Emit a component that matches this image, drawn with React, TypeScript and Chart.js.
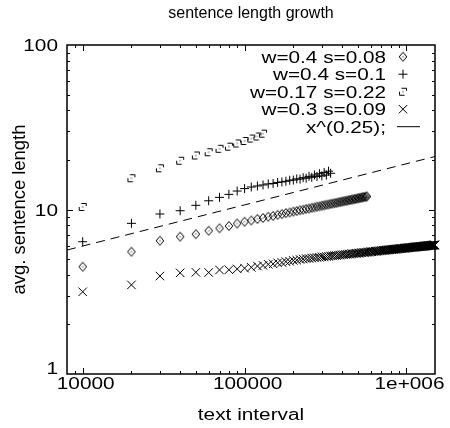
import { useEffect, useRef } from "react";
import { Chart, registerables } from "chart.js";

Chart.register(...registerables);

// ---- data ----
const textInterval = [
  10000, 20000, 30000, 40000, 50000, 60000, 70000, 80000, 90000, 100000,
  110000, 120000, 130000, 140000, 150000, 160000, 170000, 180000, 190000, 200000,
  210000, 220000, 230000, 240000, 250000, 260000, 270000, 280000, 290000, 300000,
  310000, 320000, 330000, 340000, 350000, 360000, 370000, 380000, 390000, 400000,
  410000, 420000, 430000, 440000, 450000, 460000, 470000, 480000, 490000, 500000,
  510000, 520000, 530000, 540000, 550000, 560000, 570000, 580000, 590000, 600000,
  610000, 620000, 630000, 640000, 650000, 660000, 670000, 680000, 690000, 700000,
  710000, 720000, 730000, 740000, 750000, 760000, 770000, 780000, 790000, 800000,
  810000, 820000, 830000, 840000, 850000, 860000, 870000, 880000, 890000, 900000,
  910000, 920000, 930000, 940000, 950000, 960000, 970000, 980000, 990000, 1000000,
  1010000, 1020000, 1030000, 1040000, 1050000, 1060000, 1070000, 1080000, 1090000, 1100000,
  1110000, 1120000, 1130000, 1140000, 1150000, 1160000, 1170000, 1180000, 1190000, 1200000,
  1210000, 1220000, 1230000, 1240000, 1250000, 1260000, 1270000, 1280000, 1290000, 1300000,
  1310000, 1320000, 1330000, 1340000, 1350000, 1360000, 1370000, 1380000, 1390000, 1400000,
  1410000, 1420000, 1430000, 1440000, 1450000, 1460000, 1470000, 1480000, 1490000, 1500000,
];

// w=0.4 s=0.08 (diamonds)
const lenW04S008 = [
  4.49, 5.54, 6.46, 6.84, 7.08, 7.43, 7.69, 7.94, 8.22, 8.43,
  8.58, 8.76, 8.88, 9.04, 9.14, 9.28, 9.38, 9.51, 9.59, 9.71,
  9.79, 9.9, 9.97, 10.08, 10.14, 10.24, 10.3, 10.4, 10.45, 10.55,
  10.6, 10.68, 10.73, 10.82, 10.86, 10.94, 10.98, 11.06, 11.1, 11.18,
  11.22, 11.29, 11.32, 11.4, 11.43, 11.5, 11.53, 11.6, 11.63, 11.7,
  11.72, 11.79, 11.82, 11.88, 11.91, 11.97, 12.0,
];

// w=0.4 s=0.1 (plus)
const lenW04S01 = [
  6.37, 8.24, 9.39, 9.83, 10.6, 11.3, 11.85, 12.36, 12.95, 13.4,
  13.7, 13.9, 14.1, 14.3, 14.4, 14.6, 14.7, 14.85, 15.05, 15.1,
  15.35, 15.3, 15.6, 15.5, 15.9, 15.7, 16.2, 15.9, 16.5, 16.0,
  16.8, 16.2, 17.1, 16.6,
];

// w=0.17 s=0.22 (boxes)
const lenW017S022 = [
  10.36, 15.5, 17.8, 19.8, 21.3, 22.3, 23.4, 24.1, 25.2, 26.1,
  27.0, 27.8, 28.9,
];

// w=0.3 s=0.09 (crosses)
const lenW03S009 = [
  3.16, 3.48, 3.94, 4.12, 4.15, 4.14, 4.29, 4.3, 4.35, 4.4,
  4.45, 4.53, 4.57, 4.64, 4.67, 4.74, 4.76, 4.82, 4.84, 4.9,
  4.92, 4.97, 5.0, 5.03, 5.04, 5.07, 5.08, 5.11, 5.12, 5.15,
  5.15, 5.18, 5.19, 5.22, 5.22, 5.25, 5.25, 5.28, 5.28, 5.31,
  5.31, 5.33, 5.34, 5.36, 5.36, 5.39, 5.38, 5.41, 5.41, 5.43,
  5.43, 5.45, 5.46, 5.48, 5.47, 5.5, 5.49, 5.52, 5.51, 5.54,
  5.53, 5.56, 5.55, 5.58, 5.57, 5.59, 5.59, 5.61, 5.6, 5.63,
  5.62, 5.65, 5.64, 5.66, 5.66, 5.68, 5.67, 5.69, 5.69, 5.71,
  5.7, 5.72, 5.72, 5.74, 5.73, 5.75, 5.75, 5.76, 5.76, 5.78,
  5.77, 5.79, 5.79, 5.8, 5.8, 5.82, 5.81, 5.83, 5.83, 5.84,
  5.84, 5.86, 5.85, 5.87, 5.86, 5.88, 5.87, 5.89, 5.89, 5.9,
  5.9, 5.91, 5.91, 5.92, 5.92, 5.93, 5.93, 5.94, 5.94, 5.95,
  5.95, 5.96, 5.96, 5.97, 5.97, 5.98, 5.98, 5.99, 5.99, 6.0,
  6.0, 6.01, 6.01, 6.02, 6.02, 6.03, 6.03, 6.04, 6.04, 6.05,
  6.05, 6.06, 6.06, 6.07, 6.07, 6.07, 6.08, 6.08, 6.09, 6.09,
];

// reference curve x^(0.25) (end points)
const fitX = [8000, 1500000];
const fitY = [5.67, 21.0];

const xTickValues = [10000, 100000, 1000000];
const xTickLabels = ["10000", "100000", "1e+006"];
const yTickValues = [1, 10, 100];
const yTickLabels = ["1", "10", "100"];
const legendLabels = ["w=0.4 s=0.08", "w=0.4 s=0.1", "w=0.17 s=0.22", "w=0.3 s=0.09", "x^(0.25);"];
const titleText = "sentence length growth";
const xTitleText = "text interval";
const yTitleText = "avg. sentence length";

const FONT = '16px "Liberation Sans", Arial, sans-serif';
const LEGEND_FONT = '17px "Liberation Sans", Arial, sans-serif';
const SX = 1.3;

function makeDiamond() {
  const c = document.createElement("canvas");
  c.width = 10;
  c.height = 12;
  const g = c.getContext("2d")!;
  g.strokeStyle = "#000";
  g.lineWidth = 1;
  g.beginPath();
  g.moveTo(5, 1.5);
  g.lineTo(8.8, 6);
  g.lineTo(5, 10.5);
  g.lineTo(1.2, 6);
  g.closePath();
  g.stroke();
  g.fillStyle = "#000";
  g.fillRect(4.5, 5.5, 1, 1);
  return c;
}

function makeBox() {
  const c = document.createElement("canvas");
  c.width = 10;
  c.height = 10;
  const g = c.getContext("2d")!;
  g.strokeStyle = "#000";
  g.lineWidth = 1;
  g.beginPath();
  g.moveTo(3.5, 1.5);
  g.lineTo(8.5, 1.5);
  g.lineTo(8.5, 4);
  g.moveTo(1.5, 5);
  g.lineTo(1.5, 8.5);
  g.lineTo(6.5, 8.5);
  g.stroke();
  g.fillStyle = "#000";
  g.fillRect(4.5, 4.5, 1, 1);
  return c;
}

function sText(ctx: CanvasRenderingContext2D, text: string, x: number, y: number, align: CanvasTextAlign, sx: number) {
  ctx.save();
  ctx.translate(x, y);
  ctx.scale(sx, 1);
  ctx.textAlign = align;
  ctx.textBaseline = "alphabetic";
  ctx.fillText(text, 0, 0);
  ctx.restore();
}

export default function App() {
  const ref = useRef<HTMLCanvasElement | null>(null);

  useEffect(() => {
    document.body.style.margin = "0";
    const canvas = ref.current;
    if (!canvas) return;
    const diamond = makeDiamond();
    const box = makeBox();

    const pts = (vals: number[]) => vals.map((v, i) => ({ x: textInterval[i], y: v }));

    const frame = {
      id: "gnuframe",
      afterDraw(chart: any) {
        const { ctx, chartArea: a, scales } = chart;
        const xs = scales.x;
        const ys = scales.y;
        ctx.save();
        ctx.strokeStyle = "#000";
        ctx.fillStyle = "#000";
        ctx.lineWidth = 1;
        const major = 6;
        const minor = 3;
        ctx.beginPath();
        for (let d = 3; d <= 6; d++) {
          for (let m = 1; m <= 9; m++) {
            const v = m * Math.pow(10, d);
            if (v <= xs.min || v >= xs.max) continue;
            const px = Math.round(xs.getPixelForValue(v)) + 0.5;
            const L = m === 1 ? major : minor;
            ctx.moveTo(px, a.bottom);
            ctx.lineTo(px, a.bottom - L);
            ctx.moveTo(px, a.top);
            ctx.lineTo(px, a.top + L);
          }
        }
        for (let d = 0; d <= 2; d++) {
          for (let m = 1; m <= 9; m++) {
            const v = m * Math.pow(10, d);
            if (v <= ys.min || v >= ys.max) continue;
            const py = Math.round(ys.getPixelForValue(v)) + 0.5;
            const L = m === 1 ? major : minor;
            ctx.moveTo(a.left, py);
            ctx.lineTo(a.left + L, py);
            ctx.moveTo(a.right, py);
            ctx.lineTo(a.right - L, py);
          }
        }
        ctx.stroke();
        ctx.lineWidth = 1.5;
        ctx.strokeRect(a.left, a.top, a.right - a.left, a.bottom - a.top);

        ctx.font = FONT;
        xTickValues.forEach((v, i) => sText(ctx, xTickLabels[i], xs.getPixelForValue(v) + 3, 389, "center", SX));
        const yOff = [0, 6, 6];
        yTickValues.forEach((v, i) => sText(ctx, yTickLabels[i], 58, ys.getPixelForValue(v) + yOff[i], "right", SX));

        const cx = (a.left + a.right) / 2;
        sText(ctx, titleText, cx, 18, "center", 1.0);
        sText(ctx, xTitleText, cx, 420, "center", SX);
        ctx.save();
        ctx.translate(25, (a.top + a.bottom) / 2);
        ctx.rotate(-Math.PI / 2);
        ctx.scale(1.15, 1.1);
        ctx.textAlign = "center";
        ctx.textBaseline = "alphabetic";
        ctx.fillText(yTitleText, 0, 0);
        ctx.restore();

        // legend
        ctx.font = LEGEND_FONT;
        const rows = [62.7, 80.2, 97.7, 115.2, 132.7];
        const mx = 403;
        legendLabels.forEach((t, i) => sText(ctx, t, 386, rows[i], "right", 1.22));
        ctx.lineWidth = 1;
        ctx.drawImage(diamond, mx - 5, rows[0] - 6 - 6);
        let cy = rows[1] - 6;
        ctx.beginPath();
        ctx.moveTo(mx - 4.5, cy);
        ctx.lineTo(mx + 4.5, cy);
        ctx.moveTo(mx, cy - 4.5);
        ctx.lineTo(mx, cy + 4.5);
        ctx.stroke();
        ctx.drawImage(box, mx - 5, rows[2] - 6 - 5);
        cy = rows[3] - 6;
        ctx.beginPath();
        ctx.moveTo(mx - 4.2, cy - 4.2);
        ctx.lineTo(mx + 4.2, cy + 4.2);
        ctx.moveTo(mx + 4.2, cy - 4.2);
        ctx.lineTo(mx - 4.2, cy + 4.2);
        ctx.stroke();
        cy = rows[4] - 6;
        ctx.beginPath();
        ctx.moveTo(397, cy);
        ctx.lineTo(420, cy);
        ctx.stroke();
        ctx.restore();
      },
    };

    const chart = new Chart(canvas, {
      type: "scatter",
      data: {
        datasets: [
          {
            label: legendLabels[0],
            data: pts(lenW04S008),
            pointStyle: diamond as any,
            pointRadius: 5,
            borderColor: "#000",
            backgroundColor: "#000",
            clip: false as any,
          },
          {
            label: legendLabels[1],
            data: pts(lenW04S01),
            pointStyle: "cross",
            pointRadius: 4.5,
            borderWidth: 1,
            borderColor: "#000",
            backgroundColor: "#000",
            clip: false as any,
          },
          {
            label: legendLabels[2],
            data: pts(lenW017S022),
            pointStyle: box as any,
            pointRadius: 5,
            borderColor: "#000",
            backgroundColor: "#000",
            clip: false as any,
          },
          {
            label: legendLabels[3],
            data: pts(lenW03S009),
            pointStyle: "crossRot",
            pointRadius: 6,
            borderWidth: 1,
            borderColor: "#000",
            backgroundColor: "#000",
            clip: false as any,
          },
          {
            label: legendLabels[4],
            data: fitX.map((x, i) => ({ x, y: fitY[i] })),
            showLine: true,
            pointRadius: 0,
            borderColor: "#000",
            borderWidth: 1,
            borderDash: [9, 6],
          } as any,
        ],
      },
      options: {
        responsive: false,
        animation: false,
        events: [],
        layout: { padding: { top: 45, right: 15, left: 0, bottom: 0 } },
        plugins: {
          legend: { display: false },
          tooltip: { enabled: false },
          title: { display: false },
        },
        scales: {
          x: {
            type: "logarithmic",
            min: 8000,
            max: 1500000,
            grid: { display: false },
            border: { display: false },
            ticks: { display: false },
            afterBuildTicks: (s: any) => {
              s.ticks = xTickValues.map((v) => ({ value: v }));
            },
            afterFit: (s: any) => {
              s.height = 54;
            },
          },
          y: {
            type: "logarithmic",
            min: 1,
            max: 100,
            grid: { display: false },
            border: { display: false },
            ticks: { display: false },
            afterBuildTicks: (s: any) => {
              s.ticks = yTickValues.map((v) => ({ value: v }));
            },
            afterFit: (s: any) => {
              s.width = 67;
            },
          },
        },
      },
      plugins: [frame],
    });
    return () => chart.destroy();
  }, []);

  return (
    <div style={{ width: 450, height: 428 }}>
      <canvas ref={ref} width={450} height={428} style={{ display: "block" }} />
    </div>
  );
}
